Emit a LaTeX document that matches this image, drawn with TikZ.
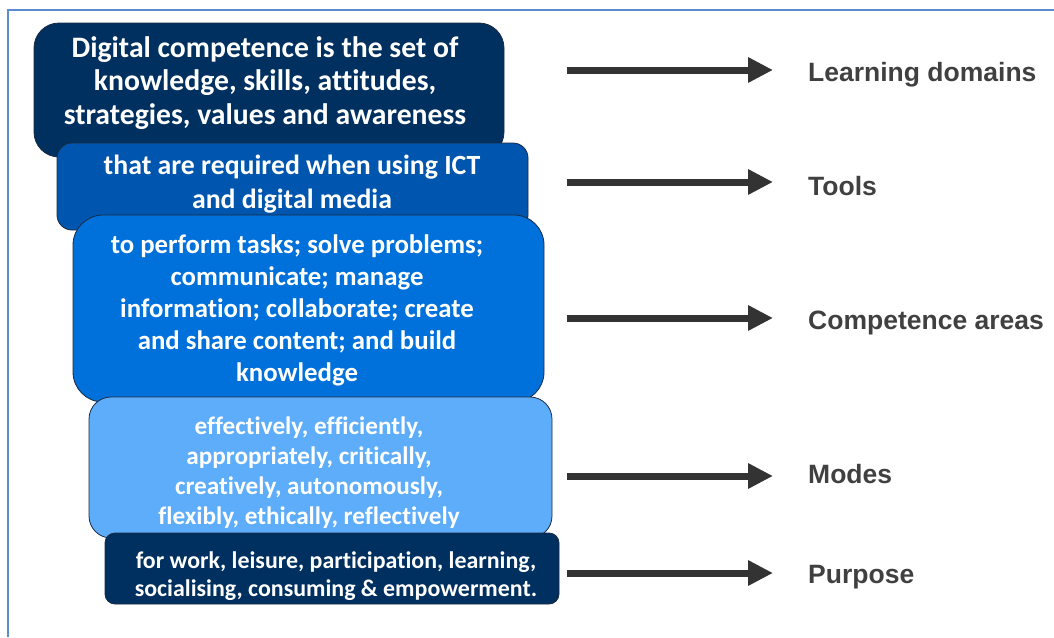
\documentclass[tikz,border=0pt]{standalone}
\usepackage{fontspec}
\setmainfont{Carlito}[Ligatures={NoCommon,NoContextual},RawFeature={-liga;-clig;-dlig}]
\newfontfamily\labelfont{Liberation Sans}
\usepackage{tikz}
\usetikzlibrary{arrows.meta}

\definecolor{frameblue}{HTML}{5B8BD0}
\definecolor{navy}{HTML}{00305F}
\definecolor{midblue}{HTML}{0056AE}
\definecolor{brightblue}{HTML}{0070DA}
\definecolor{lightblue}{HTML}{5EADFB}
\definecolor{boxline}{HTML}{1A2A40}
\definecolor{arrowgray}{HTML}{333333}
\definecolor{labelgray}{HTML}{404040}

\begin{document}
\begin{tikzpicture}[x=1pt, y=-1pt,
		box_style/.style={rectangle,draw=boxline,line width=0.8pt,inner sep=0pt},
		text_style/.style={text=white,align=center,inner sep=0pt,font=\bfseries},
		label_style/.style={anchor=west,text=labelgray,inner sep=0pt,font=\labelfont\bfseries\fontsize{26.5}{30}\selectfont},
		edge_style/.style={draw=arrowgray,line width=7pt,-{Triangle[length=25pt,width=24pt]}}]
		
		\useasboundingbox (0,0) rectangle (1054,637);
		\draw[frameblue,line width=2pt] (8,637) -- (8,10) -- (1054,10);
		
		% the stacked boxes
		\node[box_style,fill=navy,rounded corners=25pt,minimum width=470pt,minimum height=134pt] (b1) at (269,90) {};
		\node[text_style,font=\bfseries\fontsize{29.7}{33.5}\selectfont] (t1) at (265,83)
			{Digital competence is the set of\\knowledge, skills, attitudes,\\strategies, values and awareness};
		\node[box_style,fill=midblue,rounded corners=15pt,minimum width=471pt,minimum height=87pt] (b2) at (292.5,186.5) {};
		\node[text_style,font=\bfseries\fontsize{27.8}{34}\selectfont] (t2) at (292,184)
			{that are required when using ICT\\and digital media};
		\node[box_style,fill=brightblue,rounded corners=30pt,minimum width=471pt,minimum height=187pt] (b3) at (308.5,308.5) {};
		\node[text_style,font=\bfseries\fontsize{26.8}{32}\selectfont] (t3) at (297,310)
			{to perform tasks; solve problems;\\communicate; manage\\information; collaborate; create\\and share content; and build\\knowledge};
		\node[box_style,fill=lightblue,rounded corners=22pt,minimum width=463pt,minimum height=141pt] (b4) at (320.5,467.5) {};
		\node[text_style,font=\bfseries\fontsize{25.2}{30}\selectfont] (t4) at (309,473)
			{effectively, efficiently,\\appropriately, critically,\\creatively, autonomously,\\flexibly, ethically, reflectively};
		\node[box_style,fill=navy,rounded corners=10pt,minimum width=454pt,minimum height=71pt] (b5) at (332,568.5) {};
		\node[text_style,font=\bfseries\fontsize{23.9}{28.5}\selectfont] (t5) at (336,576)
			{for work, leisure, participation, learning,\\socialising, consuming \& empowerment.};
		
		% arrows and labels
		\coordinate (s1) at (567,70);
		\coordinate (e1) at (773,70);
		\coordinate (s2) at (567,182);
		\coordinate (e2) at (773,182);
		\coordinate (s3) at (567,318);
		\coordinate (e3) at (773,318);
		\coordinate (s4) at (567,476);
		\coordinate (e4) at (773,476);
		\coordinate (s5) at (567,573);
		\coordinate (e5) at (773,573);
		
		\node[label_style] (l1) at (808,75) {Learning domains};
		\node[label_style] (l2) at (808,186) {Tools};
		\node[label_style] (l3) at (808,322.5) {Competence areas};
		\node[label_style] (l4) at (808,474.5) {Modes};
		\node[label_style] (l5) at (808,577.5) {Purpose};
		
		\draw[edge_style] (s1) -- (e1);
		\draw[edge_style] (s2) -- (e2);
		\draw[edge_style] (s3) -- (e3);
		\draw[edge_style] (s4) -- (e4);
		\draw[edge_style] (s5) -- (e5);
		
\end{tikzpicture}
\end{document}
